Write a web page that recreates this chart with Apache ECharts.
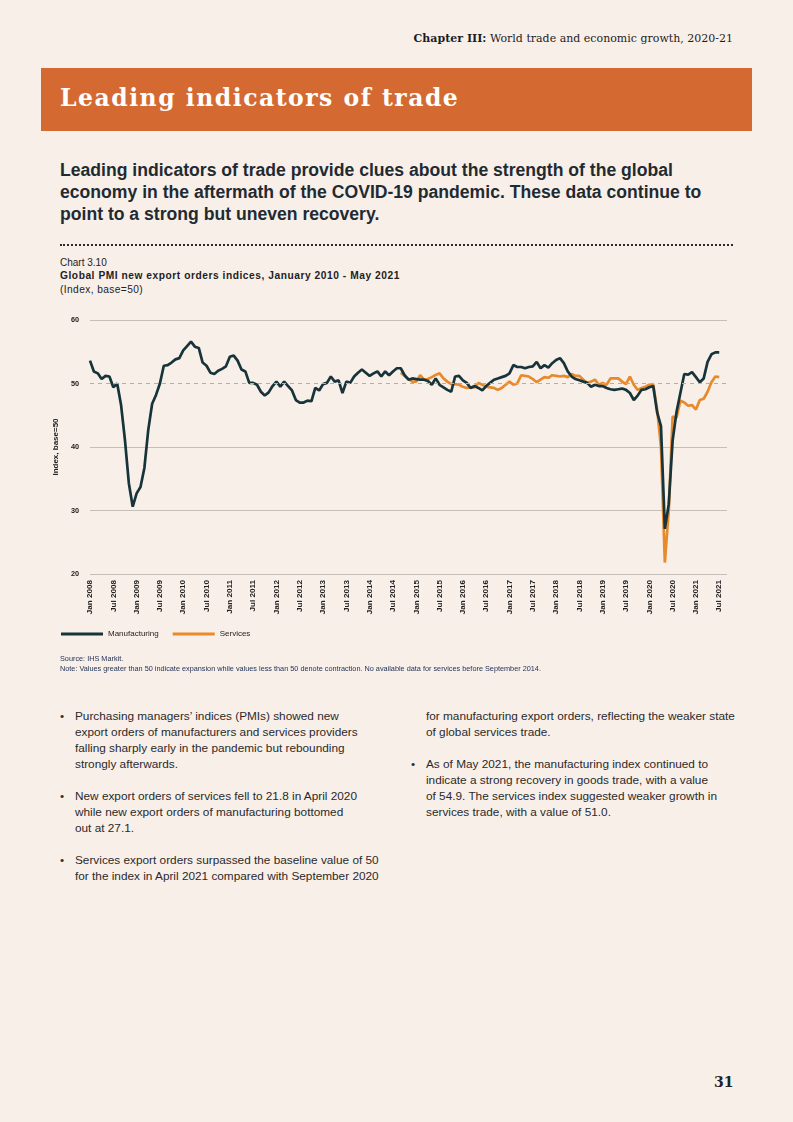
<!DOCTYPE html>
<html>
<head>
<meta charset="utf-8">
<script src="https://cdn.jsdelivr.net/npm/echarts@6/dist/echarts.min.js"></script>
<style>
  html, body { margin:0; padding:0; }
  body { width:793px; height:1122px; background:#f9efe9; position:relative; overflow:hidden; font-family:"Liberation Sans", Arial, sans-serif; color:#222; }
  .abs { position:absolute; white-space:nowrap; }
  #chart { position:absolute; left:0; top:0; width:793px; height:700px; }
  .slab { font-family:"DejaVu Serif", serif; }
  .bul { font-size:11.8px; color:#2a2a2a; line-height:16px; }
  .bul .dot { position:absolute; left:-15px; }
</style>
</head>
<body>
<div class="abs slab" style="right:60px; top:32px; font-size:11px; color:#1d1d1d;"><b>Chapter III:</b> World trade and economic growth, 2020-21</div>
<div class="abs" style="left:41px; top:68px; width:711px; height:63px; background:#d46a32;"></div>
<div class="abs slab" style="left:60px; top:84px; font-size:23.5px; font-weight:bold; color:#fff; letter-spacing:1.5px;">Leading indicators of trade</div>

<div class="abs" style="left:60px; top:159px; font-size:17.6px; font-weight:bold; color:#1f2b31; line-height:22px;">Leading indicators of trade provide clues about the strength of the global<br>economy in the aftermath of the COVID-19 pandemic. These data continue to<br>point to a strong but uneven recovery.</div>

<div class="abs" style="left:60px; top:244px; width:673px; border-top:2.2px dotted #2a2a2a;"></div>
<div class="abs" style="left:60px; top:257px; font-size:10px;">Chart 3.10</div>
<div class="abs" style="left:60px; top:270px; font-size:10.2px; font-weight:bold; letter-spacing:0.55px;">Global PMI new export orders indices, January 2010 - May 2021</div>
<div class="abs" style="left:60px; top:284px; font-size:10.2px; letter-spacing:0.4px;">(Index, base=50)</div>

<div id="chart"></div>

<div class="abs" style="left:60px; top:654px; font-size:7.3px; color:#1d2f52;">Source: IHS Markit.</div>
<div class="abs" style="left:60px; top:664px; font-size:7.3px; color:#1d2f52;">Note: Values greater than 50 indicate expansion while values less than 50 denote contraction. No available data for services before September 2014.</div>

<div class="abs bul" style="left:75px; top:708px;"><span class="dot">•</span>Purchasing managers’ indices (PMIs) showed new<br>export orders of manufacturers and services providers<br>falling sharply early in the pandemic but rebounding<br>strongly afterwards.</div>
<div class="abs bul" style="left:75px; top:788px;"><span class="dot">•</span>New export orders of services fell to 21.8 in April 2020<br>while new export orders of manufacturing bottomed<br>out at 27.1.</div>
<div class="abs bul" style="left:75px; top:852px;"><span class="dot">•</span>Services export orders surpassed the baseline value of 50<br>for the index in April 2021 compared with September 2020</div>
<div class="abs bul" style="left:426px; top:708px;">for manufacturing export orders, reflecting the weaker state<br>of global services trade.</div>
<div class="abs bul" style="left:426px; top:756px;"><span class="dot">•</span>As of May 2021, the manufacturing index continued to<br>indicate a strong recovery in goods trade, with a value<br>of 54.9. The services index suggested weaker growth in<br>services trade, with a value of 51.0.</div>

<div class="abs slab" style="left:714px; top:1074px; font-size:14px; color:#222; font-weight:bold;">31</div>

<script>
const monthNames = ['Jan','Feb','Mar','Apr','May','Jun','Jul','Aug','Sep','Oct','Nov','Dec'];
const years = [2008,2009,2010,2011,2012,2013,2014,2015,2016,2017,2018,2019,2020,2021];
const lastMonthIndex2021 = 8; // axis runs to Sep 2021
const categories = [];
years.forEach(y => monthNames.forEach((m, k) => {
  if (y < 2021 || k <= lastMonthIndex2021) categories.push(m + ' ' + y);
}));

const manufacturing = [
  53.6, 51.9, 51.6, 50.7, 51.2, 51.1, 49.4, 50.0, 46.6, 41.1, 34.3, 30.6,
  32.7, 33.7, 36.7, 42.7, 46.8, 48.2, 50.0, 52.8, 52.9, 53.3, 53.8, 54.0,
  55.2, 55.9, 56.6, 55.8, 55.6, 53.3, 52.8, 51.7, 51.5, 52.0, 52.3, 52.7,
  54.2, 54.4, 53.6, 52.2, 51.9, 50.1, 50.1, 49.8, 48.7, 48.1, 48.6, 49.6,
  50.3, 49.5, 50.3, 49.6, 48.9, 47.4, 47.0, 47.0, 47.3, 47.2, 49.3, 48.9,
  49.9, 50.1, 51.1, 50.3, 50.5, 48.5, 50.3, 50.1, 51.1, 51.7, 52.2, 51.7,
  51.2, 51.6, 51.9, 51.1, 51.9, 51.3, 51.9, 52.4, 52.4, 51.3, 50.6, 50.8,
  50.7, 50.6, 50.6, 50.4, 49.8, 50.8, 49.8, 49.4, 49.0, 48.7, 51.1, 51.2,
  50.5, 50.1, 49.3, 49.6, 49.3, 48.9, 49.6, 50.1, 50.6, 50.8, 51.0, 51.2,
  51.6, 52.9, 52.6, 52.6, 52.4, 52.6, 52.7, 53.4, 52.4, 52.9, 52.5, 53.2,
  53.7, 54.0, 53.2, 51.9, 51.1, 50.7, 50.5, 50.3, 50.1, 49.5, 49.8, 49.6,
  49.6, 49.3, 49.1, 49.0, 49.1, 49.2, 49.0, 48.5, 47.4, 48.1, 49.0, 49.1,
  49.4, 49.6, 45.5, 43.3, 27.1, 31.0, 41.0, 45.5, 48.5, 51.5, 51.4, 51.8,
  51.0, 50.2, 50.8, 53.4, 54.6, 54.9, 54.9
];

// Services: no data before September 2014
const servicesStartLabel = 'Sep 2014';
const services = [
  51.7, 51.2, 50.7, 50.3,
  50.3, 51.3, 50.6, 50.7, 51.0, 51.35, 51.6, 50.8, 50.3, 49.9, 49.9, 49.8,
  49.5, 49.3, 49.4, 49.4, 50.1, 49.8, 49.5, 49.4, 49.3, 49.0, 49.3, 49.8,
  50.3, 49.8, 50.0, 51.3, 51.2, 51.1, 50.7, 50.2, 50.6, 51.0, 50.9, 51.3,
  51.2, 51.1, 51.2, 51.0, 51.5, 51.2, 51.2, 50.6, 50.1, 50.3, 50.6, 49.8,
  50.1, 49.8, 50.8, 50.8, 50.8, 50.3, 49.9, 51.1, 49.8, 49.0, 49.3, 49.5,
  49.8, 49.9, 46.0, 40.0, 21.8, 30.0, 44.8, 44.6, 47.3, 47.0, 46.5, 46.6,
  45.9, 47.4, 47.6, 48.7, 50.2, 51.1, 51.0
];

const yTicks = [20, 30, 40, 50, 60];
const baseline = 50;

const startIdx = categories.indexOf(servicesStartLabel);
const servicesData = categories.map((c, i) => (i >= startIdx && i - startIdx < services.length) ? services[i - startIdx] : null);
const manufacturingData = categories.map((c, i) => i < manufacturing.length ? manufacturing[i] : null);

const chart = echarts.init(document.getElementById('chart'), null, { renderer: 'canvas' });
const font = '"Liberation Sans", Arial, sans-serif';
chart.setOption({
  animation: false,
  backgroundColor: 'transparent',
  grid: { left: 90, top: 320, width: 637, height: 254 },
  legend: {
    data: ['Manufacturing', 'Services'],
    left: 56, top: 625,
    icon: 'rect', itemWidth: 42, itemHeight: 3, itemGap: 14,
    textStyle: { fontSize: 8, color: '#222', fontFamily: font }
  },
  xAxis: {
    type: 'category', data: categories, boundaryGap: false,
    axisLine: { show: false }, axisTick: { show: false },
    axisLabel: {
      interval: 5, rotate: 90, fontSize: 8.1, fontWeight: 'bold', color: '#222',
      fontFamily: font, margin: 6
    },
    splitLine: { show: false }
  },
  yAxis: {
    type: 'value', min: yTicks[0], max: yTicks[yTicks.length - 1], interval: 10,
    name: 'Index, base=50', nameLocation: 'middle', nameGap: 27, nameRotate: 90,
    nameTextStyle: { fontSize: 8, fontWeight: 'bold', color: '#222', fontFamily: font },
    axisLine: { show: false }, axisTick: { show: false },
    axisLabel: { fontSize: 7.3, fontWeight: 'bold', color: '#222', fontFamily: font, margin: 11 },
    splitLine: { lineStyle: { color: ['#c5bfba', '#c5bfba', '#c5bfba', 'rgba(0,0,0,0)', '#c5bfba'], width: 1.2 } }
  },
  series: [
    {
      name: 'Services', type: 'line', data: servicesData, symbol: 'none', z: 2,
      lineStyle: { color: '#e8892b', width: 2.7 }, itemStyle: { color: '#e8892b' },
      markLine: {
        silent: true, symbol: 'none', label: { show: false },
        lineStyle: { color: '#b3aeaa', type: [4, 4], width: 1.1 },
        data: [{ yAxis: baseline }]
      }
    },
    {
      name: 'Manufacturing', type: 'line', data: manufacturingData, symbol: 'none', z: 3,
      lineStyle: { color: '#17343a', width: 2.7 }, itemStyle: { color: '#17343a' }
    }
  ]
});
</script>
</body>
</html>
